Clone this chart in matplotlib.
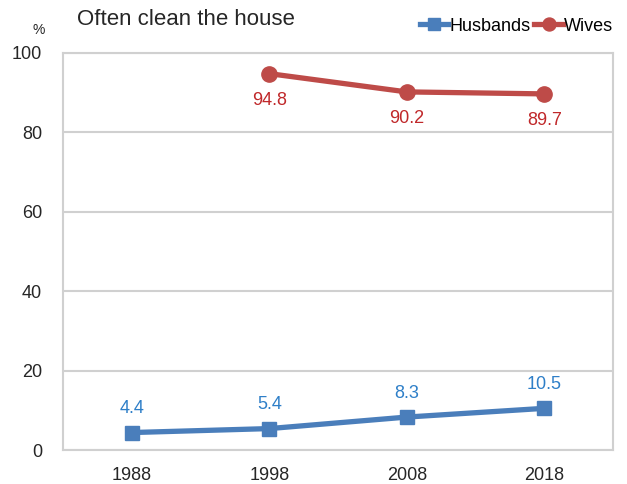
import numpy as np
import matplotlib.pyplot as plt

plt.rcParams['font.family'] = ['Liberation Sans', 'DejaVu Sans']

years = ['1988', '1998', '2008', '2018']
husbands = [4.4, 5.4, 8.3, 10.5]
wives = [np.nan, 94.8, 90.2, 89.7]

blue = '#4a7ebb'
blue_txt = '#2e7fc8'
red = '#be4b48'
red_txt = '#c0282a'
grid = '#d0d0d0'

fig = plt.figure(figsize=(6.27, 4.84), dpi=100)
ax = fig.add_axes([0.1005, 0.0702, 0.8772, 0.8203])

x = np.arange(len(years))
ax.plot(x, husbands, color=blue, lw=3.8, marker='s', ms=10.5, label='Husbands', zorder=3)
ax.plot(x, wives, color=red, lw=3.8, marker='o', ms=11, label='Wives', zorder=3)

for xi, v in zip(x, husbands):
    ax.annotate(f'{v}', (xi, v), xytext=(0, 11), textcoords='offset points',
                ha='center', va='bottom', color=blue_txt, fontsize=13)
for xi, v in zip(x, wives):
    if np.isnan(v):
        continue
    ax.annotate(f'{v}', (xi, v), xytext=(0, -13), textcoords='offset points',
                ha='center', va='top', color=red_txt, fontsize=13)

ax.set_xlim(-0.5, 3.5)
ax.set_ylim(0, 100)
ax.set_xticks(x)
ax.set_xticklabels(years)
ax.set_yticks(range(0, 101, 20))
ax.yaxis.grid(True, color=grid, lw=1.5)
ax.set_axisbelow(True)
for s in ax.spines.values():
    s.set_color(grid)
    s.set_linewidth(1.5)
ax.tick_params(length=0, labelsize=13, colors='#262626')
ax.tick_params(axis='y', pad=15)
ax.tick_params(axis='x', pad=12)

fig.text(0.123, 0.959, 'Often clean the house', fontsize=16, color='#262626', va='center')
fig.text(0.061, 0.938, '%', fontsize=10, color='#262626', va='center', ha='center')

leg = ax.legend(loc='center right', bbox_to_anchor=(1.0, 1.068), ncol=2, frameon=False,
                fontsize=13, handlelength=1.6, handletextpad=0.05, columnspacing=0.2,
                markerscale=0.85, borderaxespad=0.0, borderpad=0.0)

fig.savefig('out.png', dpi=100)
